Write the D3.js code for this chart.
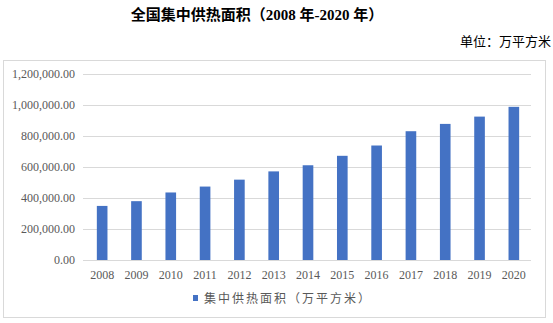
<!DOCTYPE html>
<html><head><meta charset="utf-8">
<script src="https://cdn.jsdelivr.net/npm/d3@7"></script>
<style>body{margin:0;background:#fff;} svg{display:block;}</style>
</head><body>
<svg id="c" width="553" height="323"></svg>
<script>
const years = ["2008","2009","2010","2011","2012","2013","2014","2015","2016","2017","2018","2019","2020"];
const areaValues = [348948, 379574, 435668, 473784, 518368, 571677, 611246, 672205, 738663, 830858, 878050, 925137, 988209];
const yTicks = [0, 200000, 400000, 600000, 800000, 1000000, 1200000];
const titleText = "全国集中供热面积（2008 年-2020 年）";
const unitText = "单位：万平方米";
const legendText = "集中供热面积（万平方米）";

const svg = d3.select("#c");
const serif = "'Liberation Serif','Times New Roman','Noto Sans CJK SC',serif";
const margin = {left:83, right:531, top:74, bottom:260};

svg.append("text").attr("x",257).attr("y",20).attr("text-anchor","middle")
  .attr("font-family",serif).attr("font-weight","bold").attr("font-size",15).attr("fill","#000")
  .text(titleText);
svg.append("text").attr("x",551).attr("y",46).attr("text-anchor","end")
  .attr("font-family",serif).attr("font-size",13).attr("fill","#000")
  .text(unitText);

svg.append("rect").attr("x",3.5).attr("y",60.5).attr("width",542).attr("height",257)
  .attr("fill","none").attr("stroke","#d9d9d9");

const x = d3.scaleBand().domain(years).range([margin.left+2, margin.right]).paddingInner(0.69).paddingOuter(0.345);
const y = d3.scaleLinear().domain([0,1200000]).range([margin.bottom, margin.top]);

const yAxis = d3.axisLeft(y).tickValues(yTicks).tickSize(-(margin.right-margin.left)).tickPadding(8)
  .tickFormat(d => d3.format(",.2f")(d));
const gy = svg.append("g").attr("transform",`translate(${margin.left},0)`).call(yAxis);
gy.select(".domain").remove();
gy.selectAll(".tick line").attr("stroke","#d9d9d9");
gy.selectAll(".tick text").attr("font-family",serif).attr("font-size",12).attr("fill","#595959");

svg.selectAll("rect.bar").data(areaValues).enter().append("rect").attr("class","bar")
  .attr("x",(d,i)=>x(years[i])).attr("width",x.bandwidth())
  .attr("y",d=>y(d)).attr("height",d=>y(0)-y(d)).attr("fill","#4472C4");

const xAxis = d3.axisBottom(x).tickSize(0).tickPadding(10);
const gx = svg.append("g").attr("transform",`translate(0,${margin.bottom})`).call(xAxis);
gx.select(".domain").remove();
gx.selectAll(".tick text").attr("font-family",serif).attr("font-size",12).attr("fill","#595959");

const lg = svg.append("g");
lg.append("rect").attr("x",193).attr("y",295).attr("width",5).attr("height",6).attr("fill","#4472C4");
lg.append("text").attr("x",204).attr("y",303).attr("font-family",serif).attr("font-size",12)
  .attr("letter-spacing","2px").attr("fill","#595959").text(legendText);
</script>
</body></html>
